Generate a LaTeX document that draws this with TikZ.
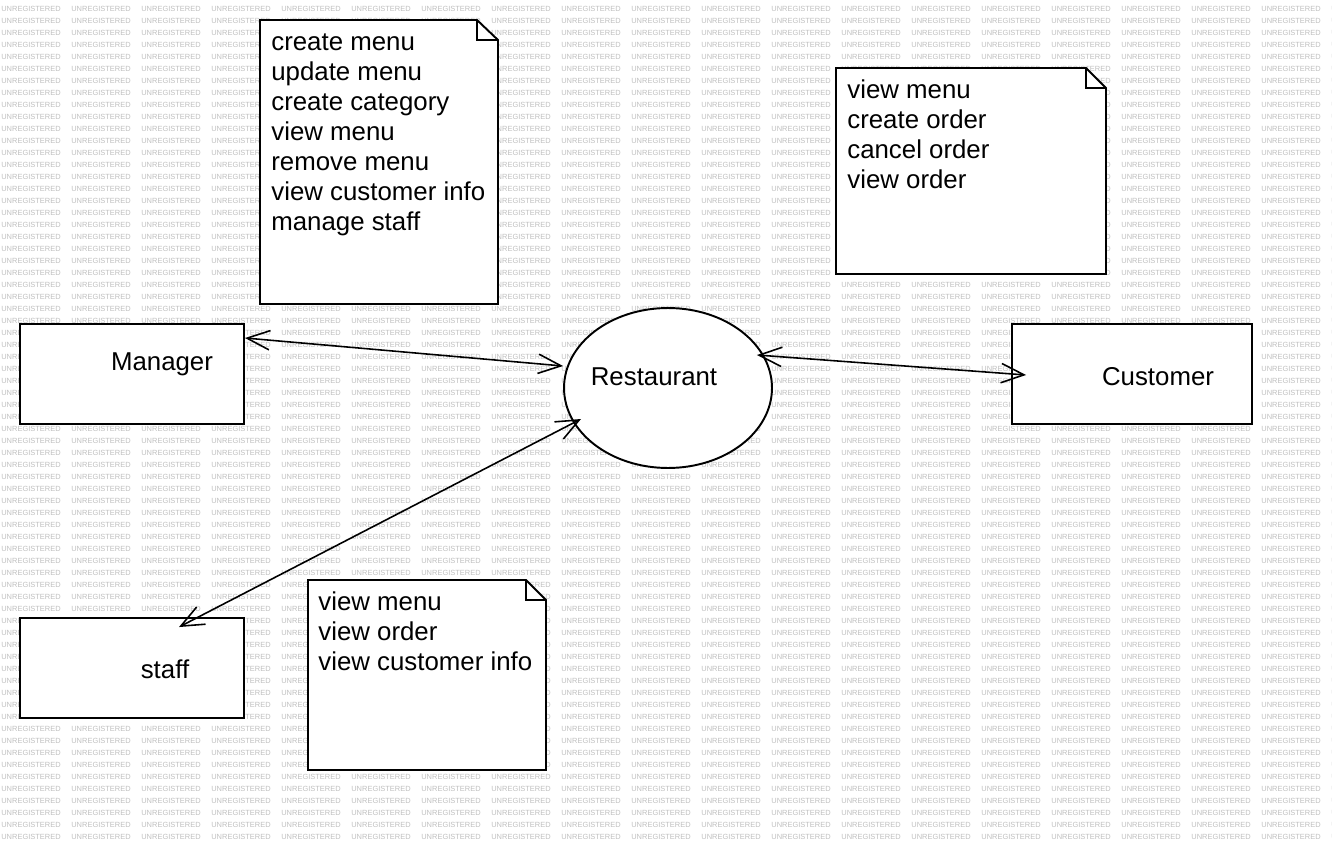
\documentclass[tikz,border=0pt]{standalone}
\usepackage{fontspec}
\setmainfont{Liberation Sans}
\usetikzlibrary{arrows.meta,shapes.geometric}

\begin{document}
\begin{tikzpicture}[x=0.02cm, y=-0.02cm,
    wm/.style={anchor=west, inner sep=0pt, text=black!25, font=\fontsize{4.25pt}{5pt}\selectfont},
    actor/.style={draw, line width=1.1pt, fill=white, minimum width=4.48cm, minimum height=2cm, inner sep=0pt},
    usecase/.style={draw, line width=1.1pt, fill=white, ellipse, minimum width=4.16cm, minimum height=3.2cm, inner sep=0pt},
    lbl/.style={anchor=base, inner sep=0pt, font=\fontsize{14.7pt}{17pt}\selectfont},
    notebox/.style={draw, line width=1.1pt, fill=white, line join=miter},
    fold/.style={line width=1.1pt},
    notetext/.style={anchor=base west, inner sep=0pt, align=left, font=\fontsize{14.7pt}{17.07pt}\selectfont},
    link/.style={line width=0.9pt, {Straight Barb[length=13pt,width=11pt]}-{Straight Barb[length=13pt,width=11pt]}}]
    \useasboundingbox (0,0) rectangle (1332,852);
    % watermark
    \foreach \r in {0,...,69}
        \foreach \c in {0,...,19}
            \node[wm] (wm-\r-\c) at (1+70*\c, 9+12*\r) {UNREGISTERED};
    % notes (node base = last line)
    \draw[notebox] (260,20) -- (477,20) -- (498,40) -- (498,304) -- (260,304) -- cycle;
    \draw[fold] (477,20) -- (477,40) -- (498,40);
    \node[notetext] (mannote) at (271,230) {create menu\\update menu\\create category\\view menu\\remove menu\\view customer info\\manage staff};
    \draw[notebox] (836,68) -- (1086,68) -- (1106,88) -- (1106,274) -- (836,274) -- cycle;
    \draw[fold] (1086,68) -- (1086,88) -- (1106,88);
    \node[notetext] (custnote) at (847,188) {view menu\\create order\\cancel order\\view order};
    \draw[notebox] (308,580) -- (526,580) -- (546,600) -- (546,770) -- (308,770) -- cycle;
    \draw[fold] (526,580) -- (526,600) -- (546,600);
    \node[notetext] (staffnote) at (318,670) {view menu\\view order\\view customer info};
    % actors and system
    \node[actor] (man) at (132,374) {};
    \node[lbl] (manlbl) at (162,370) {Manager};
    \node[actor, minimum width=4.8cm] (cust) at (1132,374) {};
    \node[lbl] (custlbl) at (1158,385.7) {Customer};
    \node[actor] (staff) at (132,668) {};
    \node[lbl] (stafflbl) at (165,678.3) {staff};
    \node[usecase] (rest) at (668,388) {};
    \node[lbl] (restlbl) at (654,385) {Restaurant};
    % links
    \draw[link] ([shift={(0,-36)}]man.east) -- ([shift={(0,-22)}]rest.west);
    \draw[link] ([shift={(-16,-33)}]rest.east) -- ([shift={(15,1)}]cust.west);
    \draw[link] ([shift={(-87,31)}]rest.center) -- ([shift={(47,10)}]staff.north);
\end{tikzpicture}
\end{document}
